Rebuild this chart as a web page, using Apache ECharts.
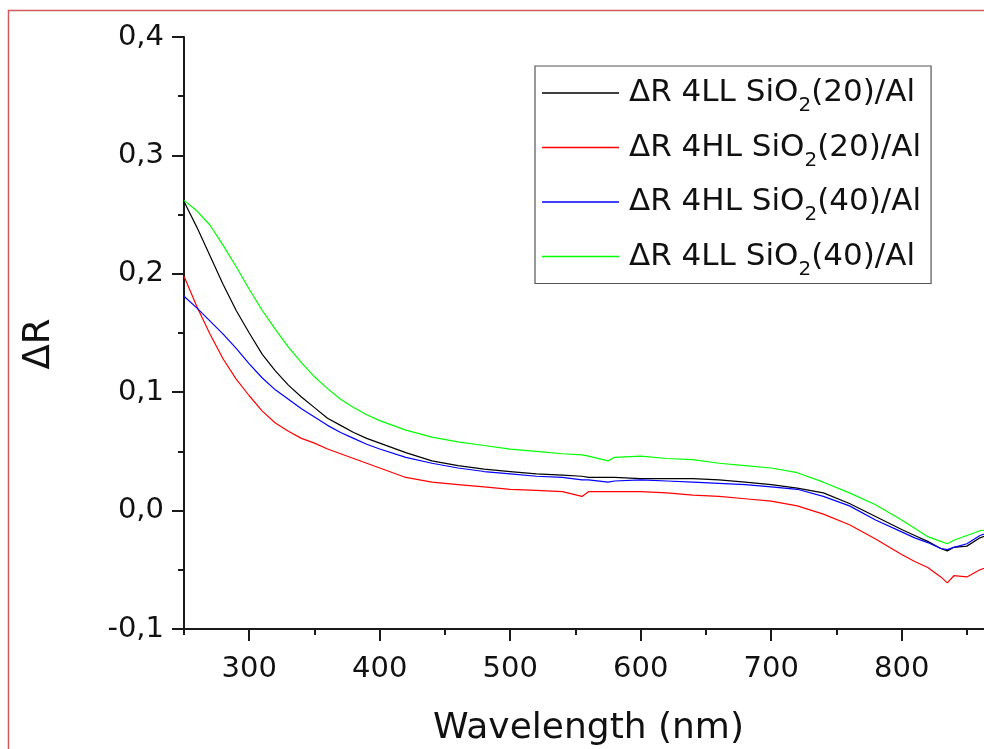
<!DOCTYPE html>
<html>
<head>
<meta charset="utf-8">
<script src="https://cdn.jsdelivr.net/npm/echarts@6/dist/echarts.min.js"></script>
<style>
html,body{margin:0;padding:0;background:#fff;}
#chart{width:984px;height:749px;}
</style>
</head>
<body>
<div id="chart"></div>
<script>
const wavelengths = [250,260,270,280,290,300,310,320,330,340,350,360,370,380,390,400,420,440,460,480,500,520,540,555,560,575,580,600,620,640,660,680,700,720,740,760,780,800,810,820,830,835,840,850,860,868];
const dR_4LL_20 = [0.261,0.239,0.215,0.191,0.169,0.150,0.132,0.118,0.106,0.096,0.087,0.078,0.072,0.066,0.061,0.057,0.049,0.042,0.038,0.035,0.033,0.031,0.030,0.029,0.028,0.028,0.028,0.027,0.027,0.027,0.026,0.024,0.022,0.019,0.015,0.006,-0.005,-0.016,-0.021,-0.026,-0.032,-0.034,-0.031,-0.030,-0.023,-0.020];
const dR_4HL_20 = [0.198,0.172,0.149,0.128,0.111,0.097,0.084,0.074,0.067,0.061,0.057,0.052,0.048,0.044,0.040,0.036,0.028,0.024,0.022,0.020,0.018,0.017,0.016,0.012,0.016,0.016,0.016,0.016,0.015,0.013,0.012,0.010,0.008,0.004,-0.003,-0.012,-0.024,-0.037,-0.043,-0.048,-0.056,-0.061,-0.055,-0.056,-0.050,-0.047];
const dR_4HL_40 = [0.181,0.171,0.160,0.149,0.137,0.124,0.112,0.102,0.094,0.086,0.079,0.072,0.066,0.061,0.056,0.052,0.045,0.040,0.036,0.033,0.031,0.029,0.028,0.026,0.026,0.024,0.025,0.026,0.025,0.024,0.023,0.022,0.020,0.018,0.012,0.004,-0.008,-0.018,-0.023,-0.027,-0.032,-0.033,-0.031,-0.028,-0.021,-0.018];
const dR_4LL_40 = [0.262,0.253,0.241,0.224,0.206,0.187,0.169,0.153,0.138,0.125,0.113,0.103,0.094,0.087,0.081,0.076,0.068,0.062,0.058,0.055,0.052,0.050,0.048,0.047,0.046,0.042,0.045,0.046,0.044,0.043,0.040,0.038,0.036,0.032,0.024,0.015,0.005,-0.008,-0.015,-0.022,-0.026,-0.028,-0.025,-0.021,-0.017,-0.016];

const seriesNames = ['4LL SiO2(20)/Al','4HL SiO2(20)/Al','4HL SiO2(40)/Al','4LL SiO2(40)/Al'];
const seriesColors = ['#000000','#ff0000','#0000ff','#00ff00'];
const seriesValues = [dR_4LL_20, dR_4HL_20, dR_4HL_40, dR_4LL_40];
const xTickLabels = [300,400,500,600,700,800];
const xMinorTicks = [250,350,450,550,650,750,850];
const xTitle = 'Wavelength (nm)';
const yTitle = 'ΔR';

const FONT = 'DejaVu Sans';
const chart = echarts.init(document.getElementById('chart'), null, {renderer:'canvas'});

function legendLabel(name){
  return 'ΔR ' + name.replace('SiO2', 'SiO{sub|2}');
}

const series = seriesNames.map((n, i) => ({
  name: n,
  type: 'line',
  xAxisIndex: 0,
  yAxisIndex: 0,
  symbol: 'none',
  showSymbol: false,
  clip: true,
  animation: false,
  lineStyle: {color: seriesColors[i], width: 1.2},
  itemStyle: {color: seriesColors[i]},
  data: wavelengths.map((w, k) => [w, seriesValues[i][k]])
}));

const axisColor = '#1a1a1a';
const option = {
  backgroundColor: '#ffffff',
  animation: false,
  grid: {left: 184, top: 37, width: 809, height: 592, containLabel: false, outerBoundsMode: 'none'},
  xAxis: [{
    type: 'value', min: 250, max: 870, position: 'bottom',
    axisLine: {show: true, onZero: false, lineStyle: {color: axisColor, width: 2}},
    axisTick: {show: true, length: 12, lineStyle: {color: axisColor, width: 2}, customValues: xTickLabels},
    axisLabel: {show: true, customValues: xTickLabels, fontFamily: FONT, fontSize: 29, color: '#111', margin: 26},
    splitLine: {show: false},
    name: xTitle, nameLocation: 'middle', nameGap: 82,
    nameTextStyle: {fontFamily: FONT, fontSize: 36, color: '#111'}
  }, {
    type: 'value', min: 250, max: 870, position: 'bottom',
    axisLine: {show: false, onZero: false},
    axisTick: {show: true, length: 6, lineStyle: {color: axisColor, width: 2}, customValues: xMinorTicks},
    axisLabel: {show: false},
    splitLine: {show: false}
  }],
  yAxis: [{
    type: 'value', min: -0.1, max: 0.4, interval: 0.1,
    axisLine: {show: true, onZero: false, lineStyle: {color: axisColor, width: 2}},
    axisTick: {show: true, length: 12, lineStyle: {color: axisColor, width: 2}},
    minorTick: {show: true, splitNumber: 2, length: 6, lineStyle: {color: axisColor, width: 2}},
    axisLabel: {fontFamily: FONT, fontSize: 29, color: '#111', margin: 20,
      formatter: v => v.toFixed(1).replace('.', ',')},
    splitLine: {show: false}, minorSplitLine: {show: false},
    name: yTitle, nameLocation: 'middle', nameGap: 126, nameRotate: 90,
    nameTextStyle: {fontFamily: FONT, fontSize: 37, color: '#111', padding: [0, 22, 0, 0]}
  }],
  legend: {
    show: true, orient: 'vertical', left: 535, top: 66,
    data: seriesNames,
    icon: 'rect',
    backgroundColor: '#fff',
    borderColor: '#555', borderWidth: 1.2,
    padding: [4, 10, 4, 7],
    itemWidth: 77, itemHeight: 1.4, itemGap: 8.5,
    formatter: legendLabel,
    textStyle: {
      fontFamily: FONT, fontSize: 31, color: '#111', lineHeight: 30, padding: [0,0,0,5],
      rich: {sub: {fontFamily: FONT, fontSize: 20, color: '#111', lineHeight: 46, verticalAlign: 'bottom'}}
    }
  },
  graphic: [{
    type: 'rect', silent: true, z: 100,
    shape: {x: 8.5, y: 10.5, width: 1100, height: 900},
    style: {fill: 'none', stroke: '#d05a5a', lineWidth: 1.5}
  }],
  series: series
};
chart.setOption(option);
</script>
</body>
</html>
